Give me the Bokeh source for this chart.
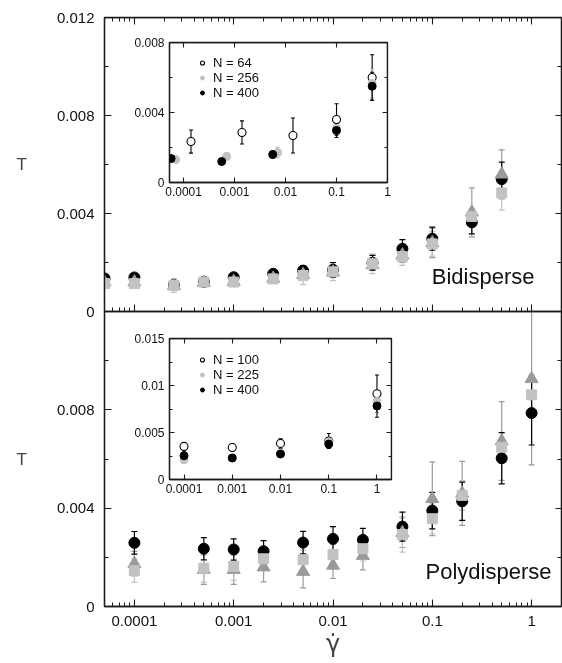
from bokeh.plotting import figure
from bokeh.models import (ColumnDataSource, LinearAxis, LogAxis, FixedTicker,
                          CustomJSTickFormatter, Range1d, Label, Legend, LegendItem)
from bokeh.embed import file_html
from bokeh.resources import INLINE

FONT = "Liberation Sans"

# ---------------- Bidisperse (top main panel) ----------------
bi_rate = [5e-5, 1e-4, 2.5e-4, 5e-4, 1e-3, 2.5e-3, 5e-3, 1e-2, 2.5e-2, 5e-2, 0.1, 0.25, 0.5]
bi_circle = [0.00135, 0.00139, 0.00108, 0.00121, 0.0014, 0.00154, 0.00167, 0.0017, 0.00199, 0.00256, 0.00297, 0.00364, 0.0054]
bi_circle_err = [0.0001, 0.0001, 0.0001, 0.0001, 0.00012, 0.00015, 0.0002, 0.0003, 0.0003, 0.00037, 0.00047, 0.00047, 0.0007]
bi_square = [0.00114, 0.00114, 0.00106, 0.0012, 0.0012, 0.00133, 0.00147, 0.00162, 0.00195, 0.00224, 0.00276, 0.00388, 0.00484]
bi_square_err = [0.0001, 0.0001, 0.00028, 0.0001, 0.0001, 0.0001, 0.00037, 0.00036, 0.0004, 0.00036, 0.0005, 0.0003, 0.0007]
bi_triangle = [0.0012, 0.0012, 0.00105, 0.00118, 0.00122, 0.00135, 0.0015, 0.0016, 0.0019, 0.0023, 0.0028, 0.00405, 0.0056]
bi_triangle_err = [0.0001, 0.0001, 0.0001, 0.0001, 0.0001, 0.00012, 0.00015, 0.0002, 0.0002, 0.0003, 0.0006, 0.001, 0.001]

# ---------------- Polydisperse (bottom main panel) ----------------
poly_rate = [1e-4, 5e-4, 1e-3, 2e-3, 5e-3, 1e-2, 2e-2, 5e-2, 0.1, 0.2, 0.5, 1.0]
poly_circle = [0.00259, 0.00235, 0.00232, 0.00225, 0.0026, 0.00275, 0.00271, 0.00325, 0.0039, 0.00428, 0.00603, 0.00787]
poly_circle_err = [0.00046, 0.00045, 0.00043, 0.00043, 0.00046, 0.0005, 0.00047, 0.00059, 0.00074, 0.00078, 0.00104, 0.0013]
poly_square = [0.00146, 0.00156, 0.00163, 0.00194, 0.0019, 0.00212, 0.00235, 0.00293, 0.00357, 0.00452, 0.00648, 0.00861]
poly_square_err = [0.00047, 0.00057, 0.00057, 0.0004, 0.0004, 0.0004, 0.0005, 0.00072, 0.0006, 0.0006, 0.0006, 0.0008]
poly_triangle = [0.00174, 0.0015, 0.0015, 0.0016, 0.00142, 0.00167, 0.00207, 0.003, 0.00438, 0.0046, 0.00673, 0.00926]
poly_triangle_err = [0.0005, 0.0006, 0.0006, 0.0006, 0.00066, 0.00053, 0.00058, 0.0006, 0.0015, 0.0013, 0.0016, 0.0035]

# ---------------- Inset: bidisperse, system sizes ----------------
bi_n64_rate = [1.4e-4, 1.4e-3, 1.4e-2, 0.1, 0.5]
bi_n64 = [0.00234, 0.00286, 0.00269, 0.0036, 0.006]
bi_n64_err = [0.00066, 0.00066, 0.001, 0.0009, 0.0013]
bi_n256_rate = [7e-5, 7e-4, 7e-3, 0.1, 0.5]
bi_n256 = [0.00131, 0.00149, 0.00171, 0.0031, 0.00566]
bi_n256_err = [0.0002, 0.0002, 0.0003, 0.0003, 0.0008]
bi_n400_rate = [5.7e-5, 5.6e-4, 5.6e-3, 0.1, 0.5]
bi_n400 = [0.00137, 0.0012, 0.0016, 0.00297, 0.0055]
bi_n400_err = [0.0001, 0.0001, 0.0002, 0.0004, 0.0008]

# ---------------- Inset: polydisperse, system sizes ----------------
poly_n_rate = [1e-4, 1e-3, 1e-2, 0.1, 1.0]
poly_n100 = [0.00352, 0.00341, 0.00384, 0.0041, 0.00912]
poly_n100_err = [0.0004, 0.0004, 0.0005, 0.0008, 0.002]
poly_n225 = [0.0021, 0.0023, 0.0028, 0.004, 0.0083]
poly_n225_err = [0.0003, 0.0003, 0.0003, 0.0005, 0.0012]
poly_n400 = [0.00253, 0.00229, 0.00271, 0.00377, 0.00782]
poly_n400_err = [0.0004, 0.0002, 0.0003, 0.0004, 0.0012]

# ---------------- ticks ----------------
x_major = [1e-4, 1e-3, 1e-2, 1e-1, 1.0]
x_minor = [m * d for d in [1e-5, 1e-4, 1e-3, 1e-2, 1e-1, 1.0] for m in range(2, 10)]
y_major_top = [0, 0.004, 0.008, 0.012]
y_major_bottom = [0, 0.004, 0.008]
y_minor_main = [0.002, 0.006, 0.01]
inset1_y_major = [0, 0.004, 0.008]
inset1_y_minor = [0.002, 0.006]
inset2_y_major = [0, 0.005, 0.01, 0.015]
inset2_y_minor = [0.0025, 0.0075, 0.0125]

LINE = "#1a1a1a"
BLACK = "#000000"
LIGHT = "#c2c2c2"
MID = "#9a9a9a"

fmt = CustomJSTickFormatter(code="return tick.toString();")
blank = CustomJSTickFormatter(code="return '';")


def make_axis(cls, ticks, minor, tin, tmin, labels=True, size="15px", standoff=5, fixed=None):
    ax = cls(ticker=FixedTicker(ticks=ticks, minor_ticks=minor))
    ax.major_tick_in = tin
    ax.major_tick_out = 0
    ax.minor_tick_in = tmin
    ax.minor_tick_out = 0
    ax.axis_line_color = LINE
    ax.axis_line_width = 1.3
    ax.major_tick_line_color = LINE
    ax.minor_tick_line_color = LINE
    ax.major_tick_line_width = 1.1
    ax.minor_tick_line_width = 1.0
    ax.major_label_text_font = FONT
    ax.major_label_text_color = "#111111"
    if labels:
        ax.formatter = fmt
        ax.major_label_text_font_size = size
        ax.major_label_standoff = standoff
    else:
        ax.formatter = blank
        ax.major_label_text_font_size = "0px"
        ax.major_label_standoff = 0
    if fixed is not None:
        ax.fixed_location = fixed
    return ax


def errbars(p, x, y, err, color, cap=6, width=1.2):
    lo = [a - e for a, e in zip(y, err)]
    hi = [a + e for a, e in zip(y, err)]
    src = ColumnDataSource(dict(x=x, lo=lo, hi=hi))
    p.segment(x0="x", y0="lo", x1="x", y1="hi", source=src, line_color=color, line_width=width)
    p.scatter(x="x", y="lo", marker="dash", size=cap, line_color=color, line_width=width, source=src)
    p.scatter(x="x", y="hi", marker="dash", size=cap, line_color=color, line_width=width, source=src)


X_LO, X_HI = 5e-5, 2.0
Y_LO, Y_HI = 0.0, 0.012
x_range = Range1d(X_LO, X_HI)


def place(left, top):
    return {"position": "fixed", "left": f"{left}px", "top": f"{top}px"}


def main_fig(height, top, bottom, y_major, x_labels, left_px, top_px, with_top_axis):
    p = figure(width=562, height=height, x_axis_type="log", x_range=x_range,
               y_range=Range1d(Y_LO, Y_HI), output_backend="svg", toolbar_location=None,
               x_axis_location=None, y_axis_location=None,
               min_border_left=104, min_border_right=1, min_border_top=top,
               min_border_bottom=bottom, styles=place(left_px, top_px))
    p.grid.visible = False
    p.outline_line_color = LINE
    p.outline_line_width = 1.3
    p.border_fill_alpha = 0
    if x_labels:
        xb = make_axis(LogAxis, x_major, x_minor, 7, 4, labels=True, standoff=9)
    else:
        xb = make_axis(LogAxis, x_major, x_minor, 7, 4, labels=False, fixed=Y_LO)
    p.add_layout(xb, "below")
    yl = make_axis(LinearAxis, y_major, y_minor_main, 7, 4, standoff=10)
    yl.axis_label = "T"
    yl.axis_label_orientation = "horizontal"
    yl.axis_label_text_font = FONT
    yl.axis_label_text_font_style = "normal"
    yl.axis_label_text_font_size = "17px"
    yl.axis_label_standoff = 27
    p.add_layout(yl, "left")
    if with_top_axis:
        p.add_layout(make_axis(LogAxis, x_major, x_minor, 7, 4, labels=False, fixed=Y_HI), "above")
    p.add_layout(make_axis(LinearAxis, y_major_top, y_minor_main, 6, 4, labels=False, fixed=X_HI), "right")
    return p, xb


def draw_main(p, x, c, ce, s, se, t, te):
    errbars(p, x, t, te, MID)
    errbars(p, x, s, se, LIGHT)
    errbars(p, x, c, ce, BLACK)
    p.scatter(x=x, y=c, marker="circle", size=11, fill_color=BLACK, line_color=BLACK)
    p.scatter(x=x, y=t, marker="triangle", size=13, fill_color=MID, line_color=MID)
    p.scatter(x=x, y=s, marker="square", size=10, fill_color=LIGHT, line_color=LIGHT)


# top panel (Bidisperse)
p1, _ = main_fig(319, 17, 8, y_major_top, False, 0, 0, True)
draw_main(p1, bi_rate, bi_circle, bi_circle_err, bi_square, bi_square_err, bi_triangle, bi_triangle_err)
p1.add_layout(Label(x=430, y=23, x_units="screen", y_units="screen", text="Bidisperse",
                    text_align="right", text_font=FONT, text_font_size="22px", text_color="#111111"))

# bottom panel (Polydisperse)
p2, xb2 = main_fig(352, 0, 57, y_major_bottom, True, 0, 311, False)
xb2.axis_label = "\u03b3\u0307"
xb2.axis_label_text_font = "DejaVu Sans"
xb2.axis_label_text_font_style = "normal"
xb2.axis_label_text_font_size = "24px"
xb2.axis_label_standoff = 1
draw_main(p2, poly_rate, poly_circle, poly_circle_err, poly_square, poly_square_err, poly_triangle, poly_triangle_err)
p2.add_layout(Label(x=447, y=23, x_units="screen", y_units="screen", text="Polydisperse",
                    text_align="right", text_font=FONT, text_font_size="22px", text_color="#111111"))


def inset_fig(xr, yr, y_major, y_minor, left, top, w, h):
    p = figure(width=w, height=h, x_axis_type="log", x_range=Range1d(*xr), y_range=Range1d(*yr),
               output_backend="svg", toolbar_location=None,
               x_axis_location=None, y_axis_location=None,
               min_border_left=45, min_border_right=8, min_border_top=8, min_border_bottom=25,
               styles=place(left, top))
    p.grid.visible = False
    p.outline_line_color = LINE
    p.outline_line_width = 1.3
    p.border_fill_alpha = 0
    p.background_fill_color = "white"
    p.add_layout(make_axis(LogAxis, x_major, [], 5, 3, size="12px", standoff=4), "below")
    p.add_layout(make_axis(LinearAxis, y_major, y_minor, 5, 3, size="12px", standoff=5), "left")
    p.add_layout(make_axis(LogAxis, x_major, [], 5, 3, labels=False, fixed=yr[1]), "above")
    p.add_layout(make_axis(LinearAxis, y_major, y_minor, 5, 3, labels=False, fixed=xr[1]), "right")
    return p


def draw_inset(p, sets, labels):
    rs = []
    for (x, y, e), kind in zip(sets, ["open", "gray", "black"]):
        col = {"open": BLACK, "gray": LIGHT, "black": BLACK}[kind]
        errbars(p, x, y, e, col, cap=4, width=1.1)
    for (x, y, e), kind in zip(sets, ["open", "gray", "black"]):
        if kind == "open":
            r = p.scatter(x=x, y=y, marker="circle", size=8, fill_color="white", line_color=BLACK, line_width=1.1)
        elif kind == "gray":
            r = p.scatter(x=x, y=y, marker="circle", size=8, fill_color=LIGHT, line_color=LIGHT)
        else:
            r = p.scatter(x=x, y=y, marker="circle", size=8, fill_color=BLACK, line_color=BLACK)
        rs.append(r)
    leg = Legend(items=[LegendItem(label=l, renderers=[r]) for l, r in zip(labels, rs)],
                 location=(28, 82), padding=0, spacing=0, margin=0,
                 glyph_width=10, glyph_height=15, label_height=15, label_standoff=6,
                 label_text_font=FONT, label_text_font_size="13px", label_text_color="#111111",
                 border_line_color=None, background_fill_alpha=0)
    p.add_layout(leg, "center")


ins1 = inset_fig((5.3e-5, 1.0), (0, 0.008), inset1_y_major, inset1_y_minor, 124, 34, 271, 173)
draw_inset(ins1, [(bi_n64_rate, bi_n64, bi_n64_err),
                  (bi_n256_rate, bi_n256, bi_n256_err),
                  (bi_n400_rate, bi_n400, bi_n400_err)],
           ["N = 64", "N = 256", "N = 400"])

ins2 = inset_fig((5e-5, 2.0), (0, 0.015), inset2_y_major, inset2_y_minor, 124, 330, 275, 174)
draw_inset(ins2, [(poly_n_rate, poly_n100, poly_n100_err),
                  (poly_n_rate, poly_n225, poly_n225_err),
                  (poly_n_rate, poly_n400, poly_n400_err)],
           ["N = 100", "N = 225", "N = 400"])

open("out.html", "w").write(file_html([p2, p1, ins1, ins2], INLINE))
